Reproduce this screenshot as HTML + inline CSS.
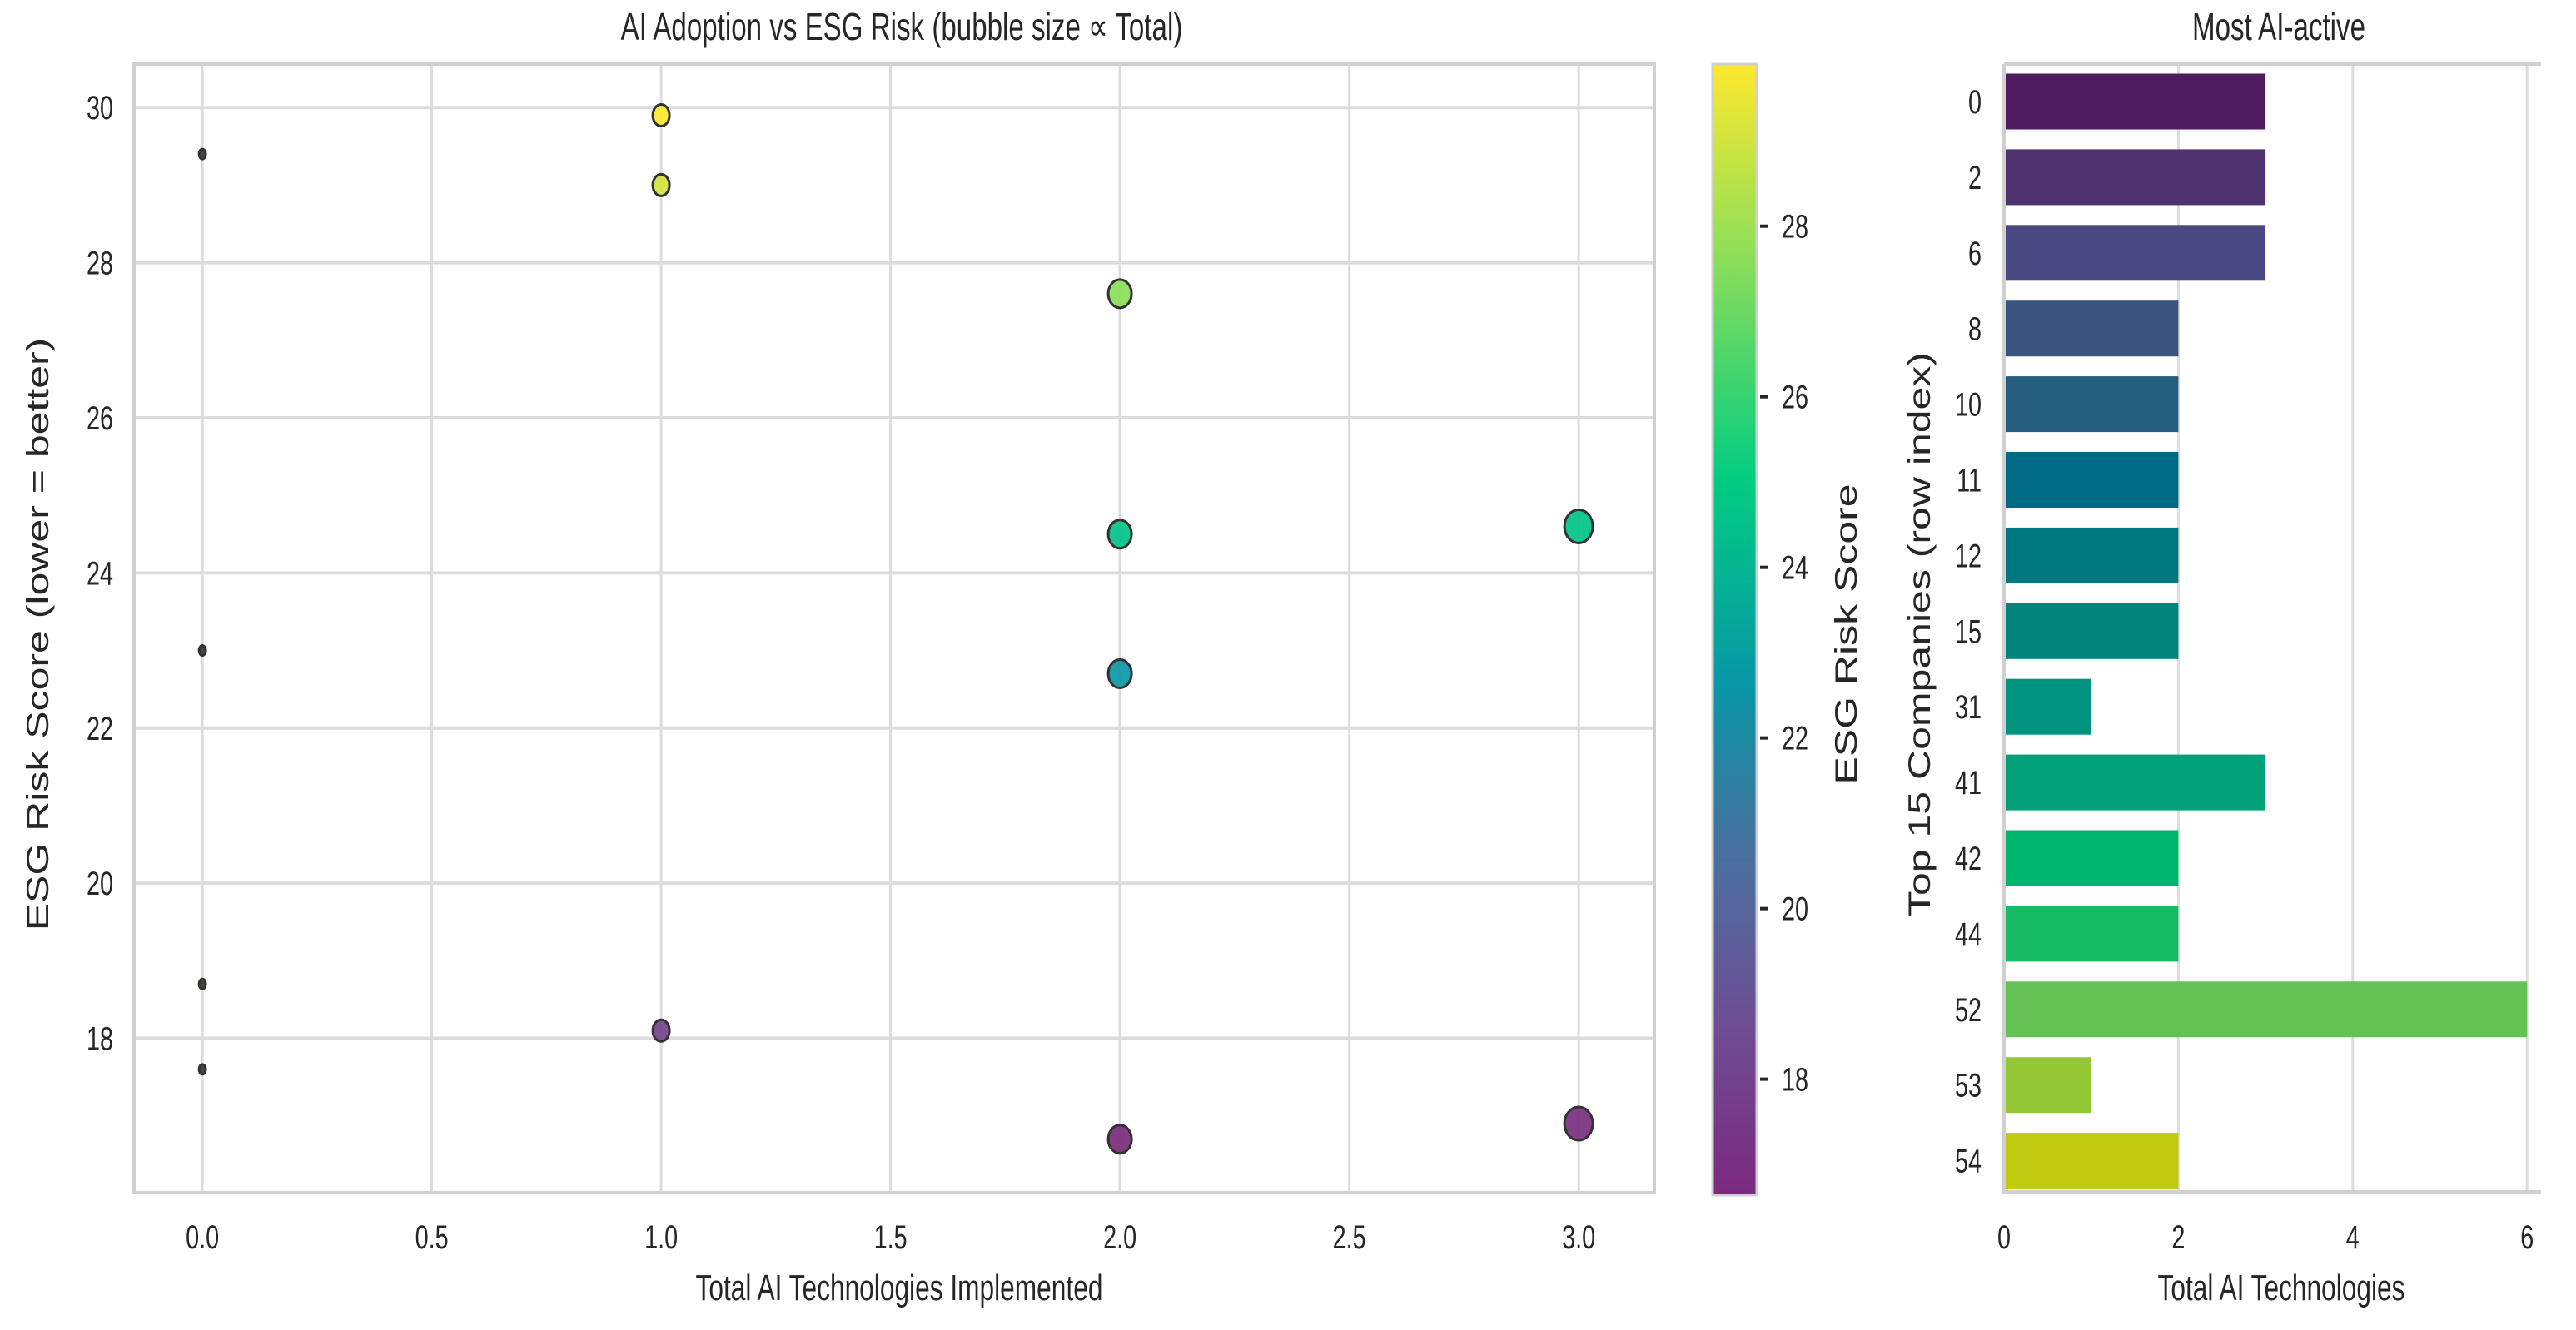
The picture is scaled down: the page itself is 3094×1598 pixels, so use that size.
<!DOCTYPE html>
<html><head><meta charset="utf-8"><style>
html,body{margin:0;padding:0;background:#fff;}
svg{display:block;font-family:"Liberation Sans",sans-serif;}
</style></head><body>
<svg id="chart" width="3094" height="1598" viewBox="0 0 3094 1598" xmlns="http://www.w3.org/2000/svg">
<defs>
<linearGradient id="cbgrad" x1="0" y1="1" x2="0" y2="0">
<stop offset="0" stop-color="#7b2a7c"/>
<stop offset="0.15" stop-color="#6e4d95"/>
<stop offset="0.3" stop-color="#4a6fa0"/>
<stop offset="0.45" stop-color="#0996a6"/>
<stop offset="0.63" stop-color="#00cc82"/>
<stop offset="0.85" stop-color="#9be055"/>
<stop offset="1" stop-color="#fde82e"/>
</linearGradient>
</defs>
<g id="root"></g>
</svg>
<script>
// Scatter data
const scatterX = [0, 1, 1, 2, 2, 3, 0, 2, 0, 1, 0, 2, 3];
const scatterY = [29.4, 29.9, 29.0, 27.6, 24.5, 24.6, 23.0, 22.7, 18.7, 18.1, 17.6, 16.7, 16.9];
const xTicks = [0, 0.5, 1, 1.5, 2, 2.5, 3];
const xTickLabels = ["0.0", "0.5", "1.0", "1.5", "2.0", "2.5", "3.0"];
const yTicks = [18, 20, 22, 24, 26, 28, 30];
const cbTicks = [18, 20, 22, 24, 26, 28];
// Bar data
const barCats = ["0", "2", "6", "8", "10", "11", "12", "15", "31", "41", "42", "44", "52", "53", "54"];
const barVals = [3, 3, 3, 2, 2, 2, 2, 2, 1, 3, 2, 2, 6, 1, 2];
const barColors = ["#4f1c5f","#4f3370","#4a4880","#39557f","#255f7f","#006b84","#007880","#00847c","#009380","#00a078","#00b56e","#16bb63","#63c253","#93c733","#c0ca10"];
const barTicks = [0, 2, 4, 6];

const NS = "http://www.w3.org/2000/svg";
const root = document.getElementById("root");
function mk(tag, attrs, parent) {
  const e = document.createElementNS(NS, tag);
  for (const k in attrs) e.setAttribute(k, attrs[k]);
  (parent || root).appendChild(e);
  return e;
}
function txt(str, x, y, size, anchor, rot, sx, sy) {
  const t = mk("text", {"font-size": size, "text-anchor": anchor || "middle", fill: "#262626",
    transform: "translate(" + x + "," + y + ")" + (rot ? " rotate(" + rot + ")" : "") + " scale(" + (sx || 0.72) + "," + (sy || 1) + ")"});
  t.textContent = str;
  return t;
}

// ---- Scatter axes ----
const L = 161, R = 1987, T = 77, B = 1433;
const xMin = -0.149, xMax = 3.165, yMin = 16.01, yMax = 30.56;
const sx = v => L + (v - xMin) / (xMax - xMin) * (R - L);
const sy = v => B - (v - yMin) / (yMax - yMin) * (B - T);
const cMin = 16.64, cMax = 29.9;

xTicks.forEach((v, i) => {
  const g = mk("line", {x1: sx(v), x2: sx(v), y1: T, y2: B, stroke: "#dcdcdc", "stroke-width": 3});
  
  
  const t = txt(xTickLabels[i], sx(v), 1500, 40);
  
  
});
yTicks.forEach(v => {
  const g = mk("line", {x1: L, x2: R, y1: sy(v), y2: sy(v), stroke: "#dcdcdc", "stroke-width": 4});
  
  
  const t = txt(String(v), 136, sy(v) + 14, 40, "end");
  
  
});
const frame = mk("rect", {x: L, y: T, width: R - L, height: B - T, fill: "none", stroke: "#d0d0d0", "stroke-width": 4});



function colorFor(v) {
  const stops = [[0,[123,42,124]],[0.15,[110,77,149]],[0.3,[74,111,160]],[0.45,[9,150,166]],[0.63,[0,204,130]],[0.85,[155,224,85]],[1,[253,232,46]]];
  let f = Math.max(0, Math.min(1, (v - cMin) / (cMax - cMin)));
  for (let i = 1; i < stops.length; i++) {
    if (f <= stops[i][0]) {
      const a = stops[i-1], b = stops[i], u = (f - a[0]) / (b[0] - a[0]);
      const c = a[1].map((x, k) => Math.round(x + (b[1][k] - x) * u));
      return "rgb(" + c.join(",") + ")";
    }
  }
  return "rgb(253,232,46)";
}
const rxBy = [4, 10, 14, 17], ryBy = [6, 13, 17, 20];
scatterX.forEach((xv, i) => {
  const c = mk("ellipse", {cx: sx(xv), cy: sy(scatterY[i]), rx: rxBy[xv], ry: ryBy[xv],
    fill: xv === 0 ? "#3a3a2a" : colorFor(scatterY[i]), stroke: "#333", "stroke-width": 3, "fill-opacity": 0.92});
  
  
});
let t;
t = txt("AI Adoption vs ESG Risk (bubble size \u221D Total)", 1083, 48, 46);
 
t = txt("Total AI Technologies Implemented", 1080, 1562, 44);
 
t = txt("ESG Risk Score (lower = better)", 58, 762, 50, "middle", -90, 1, 0.75);
 

// ---- Colorbar ----
const cbL = 2057, cbR = 2110, cbT = 77, cbB = 1436;
const cy = v => cbB - (v - cMin) / (cMax - cMin) * (cbB - cbT);
const cb = mk("rect", {x: cbL, y: cbT, width: cbR - cbL, height: cbB - cbT, fill: "url(#cbgrad)", stroke: "#d0d0d0", "stroke-width": 3});


cbTicks.forEach(v => {
  const l = mk("line", {x1: cbR + 4, x2: cbR + 14, y1: cy(v), y2: cy(v), stroke: "#262626", "stroke-width": 4});
  
  
  const tt = txt(String(v), 2140, cy(v) + 14, 40, "start");
  
  
});
t = txt("ESG Risk Score", 2230, 762, 50, "middle", -90, 1, 0.75);
 

// ---- Bar chart ----
const bL = 2407, bR = 3052, bT = 77, bB = 1432;
const bx = v => bL + v * 104.7;
const rowY0 = 122, rowStep = 90.9, barH = 67;
barTicks.forEach(v => {
  const g = mk("line", {x1: bx(v), x2: bx(v), y1: bT, y2: bB, stroke: "#dcdcdc", "stroke-width": 3});
  
  
  const tt = txt(String(v), bx(v), 1500, 40);
  
  
});
barCats.forEach((c, i) => {
  const yc = rowY0 + i * rowStep;
  const r = mk("rect", {x: bL, y: yc - barH / 2, width: bx(barVals[i]) - bL, height: barH, fill: barColors[i]});
  
  
  const tt = txt(c, 2380, yc + 14, 40, "end");
  
  
});
const bf = mk("path", {d: "M" + bL + "," + bT + " H" + bR + " M" + bL + "," + bT + " V" + bB + " H" + bR, fill: "none", stroke: "#d0d0d0", "stroke-width": 4});


t = txt("Most AI-active", 2737, 48, 46);
 
t = txt("Total AI Technologies", 2740, 1562, 44);
 
t = txt("Top 15 Companies (row index)", 2318, 762, 50, "middle", -90, 1, 0.75);
 
</script>
</body></html>
